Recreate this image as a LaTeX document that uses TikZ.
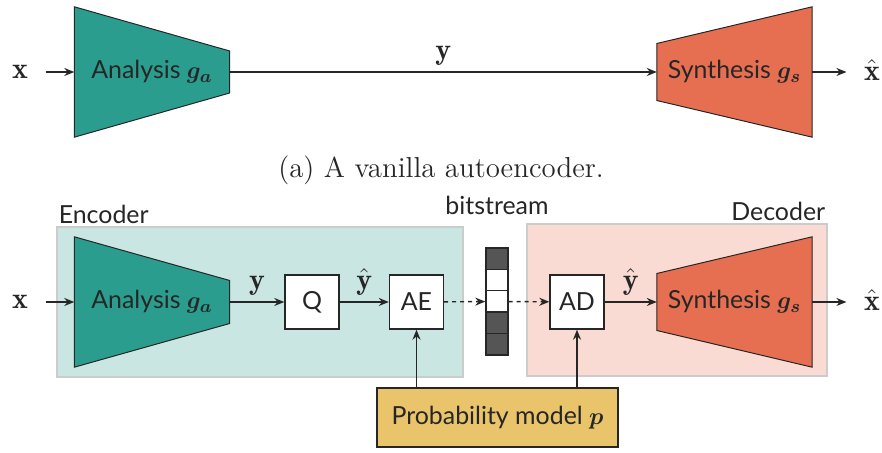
\documentclass[tikz,border=0pt]{standalone}
\usepackage{amsmath,bm}
\usepackage{fontspec}
\setsansfont{Lato}
\usetikzlibrary{positioning,calc,arrows.meta,backgrounds}

\definecolor{tealnet}{HTML}{2A9D8F}
\definecolor{orangenet}{HTML}{E76F51}
\definecolor{probcol}{HTML}{E9C46A}
\definecolor{bitdark}{HTML}{555555}

\begin{document}
\begin{tikzpicture}[x=0.5bp, y=-0.5bp, line width=0.7bp, color=black!85,
    font=\sffamily\fontsize{12.5}{15}\selectfont,
    net/.style = {minimum width=77bp, minimum height=64.5bp, inner sep=0pt},
    op/.style = {draw, fill=white, minimum size=27bp, inner sep=0pt},
    bit/.style = {draw, minimum width=11bp, minimum height=10.7bp, inner sep=0pt},
    var/.style = {font=\fontsize{15}{18}\selectfont, inner sep=2bp},
    arr/.style = {-{Stealth[length=5bp, width=4bp]}},
    bits/.style = {arr, dash pattern=on 2bp off 2bp},
    region/.style = {draw=black!20, line width=0.6bp, inner sep=0pt},
    trap/.style = {draw=black!85, line width=0.5bp}]
\useasboundingbox (0,0) rectangle (882,453);

% (a) vanilla autoencoder
\node[var] (x1) at (20,72) {$\mathbf{x}$};
\node[net] (ga1) at (152,72) {Analysis $\bm{g_a}$};
\node[net] (gs1) at (734.5,72) {Synthesis $\bm{g_s}$};
\node[var] (xh1) at (872,70) {$\hat{\mathbf{x}}$};
\node (cap) at (441,170) {\rmfamily\fontsize{14.5}{17}\selectfont (a) A vanilla autoencoder.};

\draw[arr, shorten <=6.5bp] (x1) -- (ga1);
\draw[arr] (ga1) -- node[var, above=1bp] {$\mathbf{y}$} (gs1);
\draw[arr, shorten >=6.5bp] (gs1) -- (xh1.west |- gs1);

% (b) with quantisation and entropy coding
\node[var] (x2) at (20,302) {$\mathbf{x}$};
\node[net] (ga2) at (152,302) {Analysis $\bm{g_a}$};
\node[op] (q) at (312,302) {Q};
\node[op] (ae) at (416.5,302) {AE};
\foreach \c [count=\i] in {bitdark,white,white,bitdark,bitdark}
    \node[bit, fill=\c] (b\i) at (497,{237.3+21.4*\i}) {};
\node (bslabel) at (497,205) {bitstream};
\node[op] (ad) at (577,302) {AD};
\node[net] (gs2) at (734.5,302) {Synthesis $\bm{g_s}$};
\node[var] (xh2) at (872,300) {$\hat{\mathbf{x}}$};
\node[op, fill=probcol, minimum width=120.5bp, minimum height=29.5bp] (pm) at (497.5,417.5) {Probability model $\bm{p}$};

\draw[arr, shorten <=6.5bp] (x2) -- (ga2);
\draw[arr] (ga2) -- node[var, above=1bp] {$\mathbf{y}$} (q);
\draw[arr] (q) -- node[var, above=1bp] {$\hat{\mathbf{y}}$} (ae);
\draw[bits] (ae) -- (b3);
\draw[bits] (b3) -- (ad);
\draw[arr] (ad) -- node[var, above=1bp] {$\hat{\mathbf{y}}$} (gs2);
\draw[arr, shorten >=6.5bp] (gs2) -- (xh2.west |- gs2);
\draw[arr] (pm.north -| ae) -- (ae);
\draw[arr] (pm.north -| ad) -- (ad);

\begin{scope}[on background layer]
  \node[region, fill=tealnet!25, minimum width=203bp, minimum height=75bp,
    label={[anchor=south west, inner sep=1bp]north west:Encoder}] (enc) at (260,302) {};
  \node[region, fill=orangenet!25, minimum width=150bp, minimum height=76bp,
    label={[anchor=south east, inner sep=1bp]north east:Decoder}] (dec) at (677,300) {};
  \filldraw[trap, fill=tealnet] (ga1.north west) -- ($(ga1.east)+(0,-21)$)
    -- ($(ga1.east)+(0,21)$) -- (ga1.south west) -- cycle;
  \filldraw[trap, fill=orangenet] ($(gs1.west)+(0,-28.5)$) -- (gs1.north east)
    -- (gs1.south east) -- ($(gs1.west)+(0,28.5)$) -- cycle;
  \filldraw[trap, fill=tealnet] (ga2.north west) -- ($(ga2.east)+(0,-21.5)$)
    -- ($(ga2.east)+(0,21.5)$) -- (ga2.south west) -- cycle;
  \filldraw[trap, fill=orangenet] ($(gs2.west)+(0,-28.5)$) -- (gs2.north east)
    -- (gs2.south east) -- ($(gs2.west)+(0,28.5)$) -- cycle;
\end{scope}
\end{tikzpicture}
\end{document}
